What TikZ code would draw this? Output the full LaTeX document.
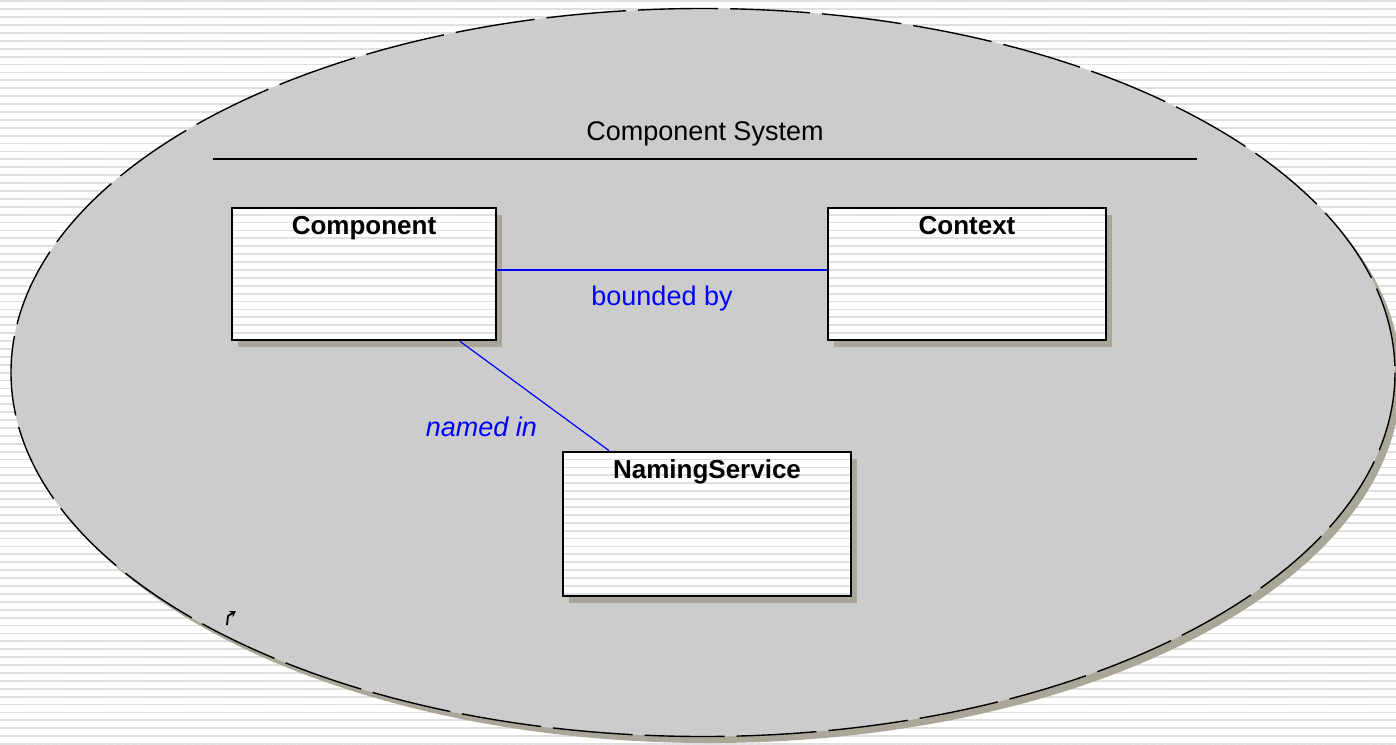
\documentclass[tikz,border=0pt]{standalone}
\usepackage{fontspec}
\setmainfont{Liberation Sans}
\usetikzlibrary{positioning,calc,shadows,patterns.meta,arrows.meta}
\definecolor{systemGray}{RGB}{204,204,204}
\definecolor{shadowGray}{RGB}{170,167,153}
\definecolor{stripeGray}{RGB}{222,222,222}
\definecolor{linkBlue}{RGB}{0,0,255}
\begin{document}
\begin{tikzpicture}
[x=0.5pt,y=-0.5pt,%
  stripeDecorate/.style={pattern={Lines[angle=0,distance=3.95pt,line width=0.9pt]},pattern color=stripeGray},%
  classDecorate/.style={shape=rectangle,draw,line width=1.4pt,fill=white,
    postaction={stripeDecorate},postaction={draw=black,line width=1.4pt},
    drop shadow={shadow xshift=3pt,shadow yshift=-3.5pt,fill=shadowGray,opacity=1}},%
  titleDecorate/.style={anchor=north,inner sep=0pt,font=\fontsize{13}{15}\selectfont\bfseries},%
  lineDecorate/.style={-,draw=linkBlue,line width=0.8pt},%
  labelDecorate/.style={text=linkBlue,font=\fontsize{13.5}{16}\selectfont},%
  italicDecorate/.style={text=linkBlue,font=\fontsize{13.5}{16}\selectfont\itshape}]
%% background
\clip (0,0) rectangle (1396,744);
\fill[white] (0,0) rectangle (1396,744);
\fill[stripeDecorate] (0,0) rectangle (1396,744);
%% system boundary
\fill[shadowGray] (709,379) ellipse [x radius=692,y radius=364];
\fill[systemGray] (703,372.5) ellipse [x radius=692,y radius=364];
\draw[line width=0.7pt,dash pattern=on 40pt off 6pt] (703,372.5) ellipse [x radius=692,y radius=364];
\node (system) at (705,134) [font=\fontsize{13.5}{16}\selectfont] {Component System};
\draw[line width=0.8pt] (213,159) -- (1197,159);
\draw[line width=0.9pt,-{Stealth[length=3pt,width=3.5pt]}] (227,625) -- (228,616) -- (236,611);
%% classes
\foreach \nodename/\x/\y/\w/\h/\title in {
  comp/364/274/264/132/Component, ctx/967/274/278/132/Context,
  ns/707/524/288/144/NamingService}
{
  \node (\nodename) at (\x,\y) [classDecorate,minimum width=\w*0.5pt,minimum height=\h*0.5pt] {};
  \node [titleDecorate] at ([yshift=-4.5pt]\nodename.north) {\title};
}
%% associations
\path ([yshift=2pt]comp.east) edge[lineDecorate]
  node[labelDecorate,below=4pt] {bounded by} ([yshift=2pt]ctx.west);
\path ($(comp.south west)!0.86!(comp.south east)$) edge[lineDecorate,line width=0.6pt]
  node[italicDecorate,pos=0.78,left=16pt] {named in} ($(ns.north west)!0.163!(ns.north east)$);
\end{tikzpicture}
\end{document}
